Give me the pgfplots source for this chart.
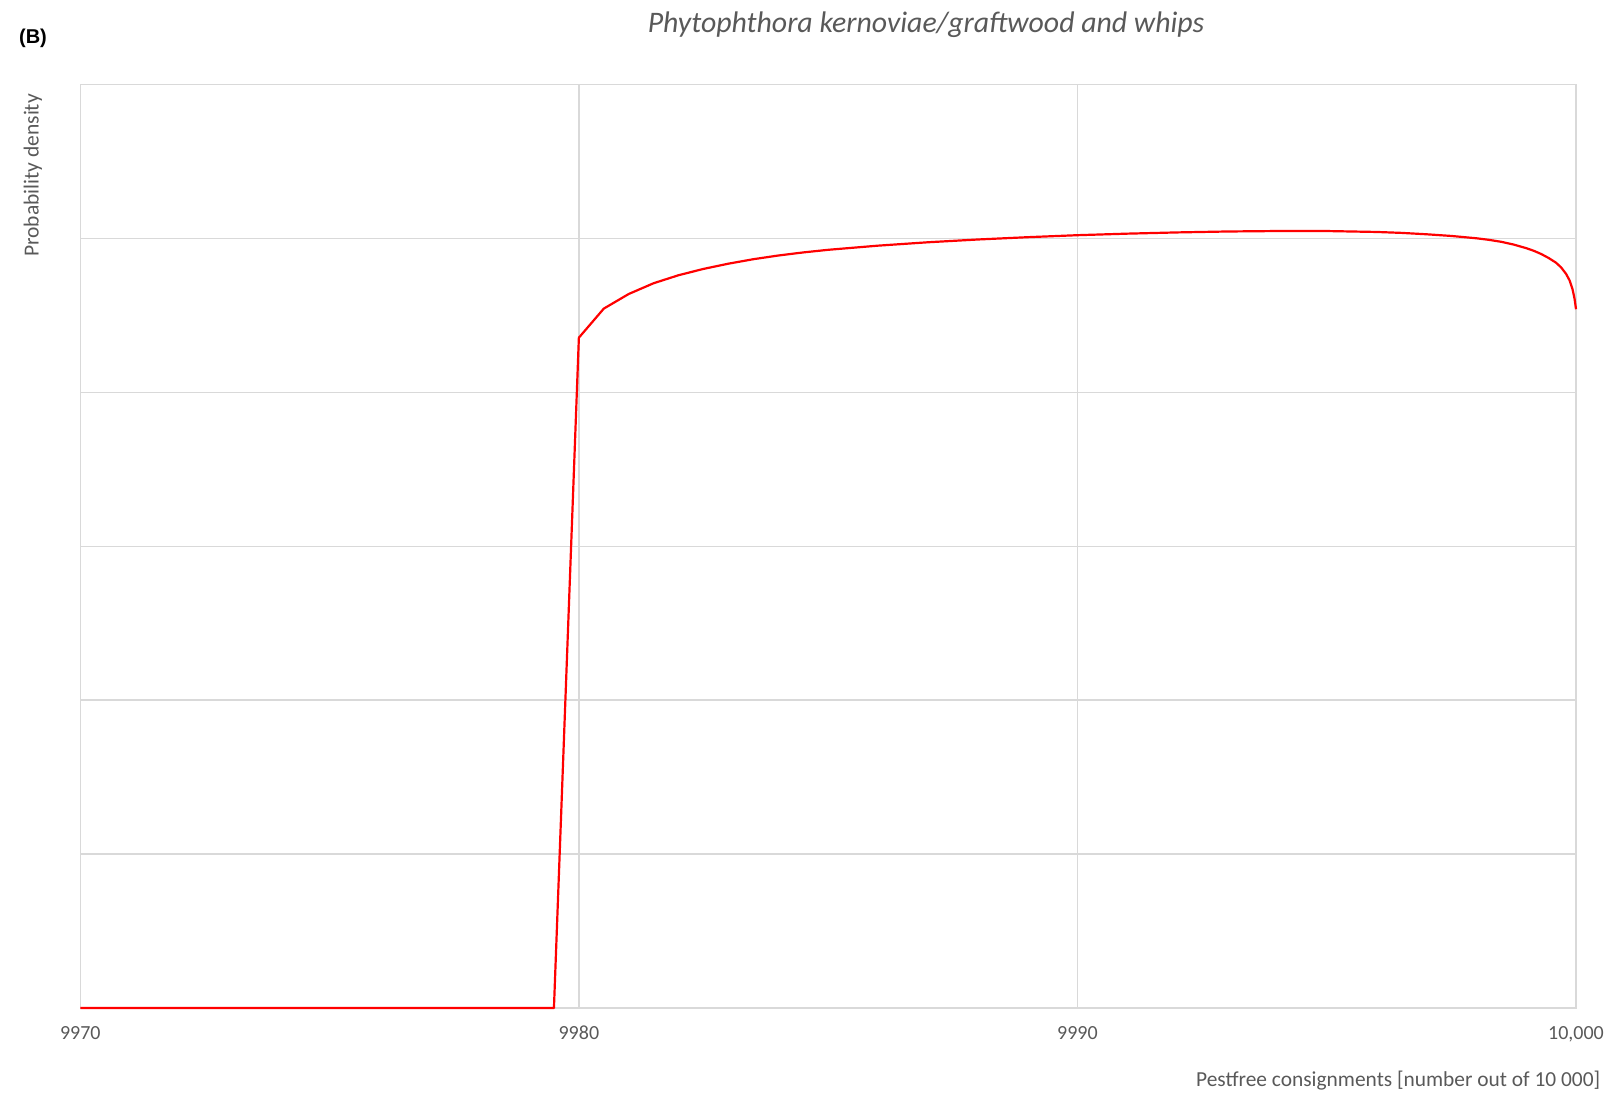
\documentclass[border=0pt]{standalone}
\usepackage{pgfplots}
\pgfplotsset{compat=1.18}
\usepackage{fontspec}
\setmainfont{Carlito}
\newfontfamily\arialfont{Liberation Sans}
\definecolor{gridgray}{HTML}{D9D9D9}
\definecolor{textgray}{HTML}{595959}
\begin{document}
\begin{tikzpicture}
\useasboundingbox (-40.15pt,-43pt) rectangle (767.35pt,504pt);
\begin{axis}[
  at={(0,0)}, anchor=south west,
  scale only axis,
  width=747.85pt, height=461.75pt,
  xmin=9970, xmax=10000, ymin=0, ymax=6,
  xtick={9970,9980,9990,10000},
  xticklabels={9970,9980,9990,{10,000}},
  scaled x ticks=false,
  ytick={0,1,2,3,4,5,6},
  yticklabels={},
  grid=major,
  major grid style={gridgray, line width=0.7pt},
  axis line style={gridgray, line width=0.7pt},
  major tick length=0pt,
  tick style={draw=none},
  x tick label style={font=\fontsize{10}{12}\selectfont, text=textgray, yshift=-5.5pt},
  /pgf/number format/assume math mode=true,
  clip=false,
]
\addplot[color=red, line width=1.1pt, line join=round] coordinates {
(9970,0) (9979.5,0) (9980,4.355) (9980.5,4.544) (9981,4.639) (9981.5,4.709)
(9982,4.761) (9982.5,4.802) (9983,4.836) (9983.5,4.865) (9984,4.889)
(9984.5,4.909) (9985,4.926) (9986,4.953) (9987,4.975) (9988,4.993)
(9989,5.008) (9990,5.021) (9991,5.031) (9992,5.039) (9993,5.045)
(9994,5.048) (9995,5.048) (9996,5.042) (9996.5,5.036) (9997,5.027)
(9997.5,5.016) (9998,5.001) (9998.25,4.991) (9998.5,4.978) (9998.75,4.960)
(9999,4.937) (9999.15,4.920) (9999.3,4.899) (9999.45,4.873) (9999.6,4.842)
(9999.7,4.812) (9999.8,4.770) (9999.87,4.728) (9999.93,4.670) (9999.97,4.610) (10000,4.54)
};
\end{axis}
\node[font=\fontsize{14.9}{17}\selectfont\itshape, text=textgray] at (422.85pt,491.7pt) {Phytophthora kernoviae/graftwood and whips};
\node[font=\arialfont\bfseries\fontsize{10}{12}\selectfont] at (-23.65pt,485pt) {(B)};
\node[rotate=90, anchor=east, font=\fontsize{10.75}{12}\selectfont, text=textgray] at (-23.65pt,460.5pt) {Probability density};
\node[anchor=east, font=\fontsize{10.7}{12}\selectfont, text=textgray] at (763.5pt,-36.5pt) {Pestfree consignments [number out of 10 000]};
\end{tikzpicture}
\end{document}
